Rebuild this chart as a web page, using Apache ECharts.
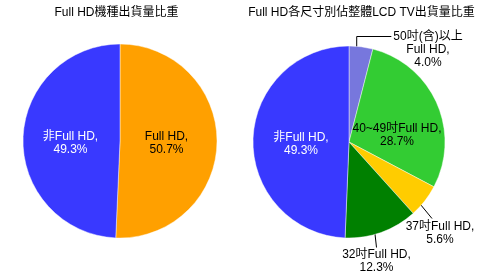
<!DOCTYPE html>
<html><head><meta charset="utf-8">
<script src="https://cdn.jsdelivr.net/npm/echarts@6/dist/echarts.min.js"></script>
<style>html,body{margin:0;padding:0;background:#fff}#c{width:481px;height:277px}</style>
</head><body><div id="c"></div>
<script>
// ---- data ----
var leftTitle = 'Full HD機種出貨量比重';
var rightTitle = 'Full HD各尺寸別佔整體LCD TV出貨量比重';
var leftNames = ['Full HD', '非Full HD'];
var leftValues = [50.7, 49.3];
var rightNames = ['50吋(含)以上\nFull HD', '40~49吋Full HD', '37吋Full HD', '32吋Full HD', '非Full HD'];
var rightValues = [4.0, 28.7, 5.6, 12.3, 49.3];

// ---- styles / layout ----
var FONT = '"Liberation Sans", Arial, "Noto Sans CJK TC", sans-serif';
var leftColors = ['#FFA000', '#3939FF'];
var rightColors = ['#7777DD', '#33CC33', '#FFCC00', '#008000', '#3939FF'];
var LC = [120, 141], LR = 97;
var RC = [349, 142], RR = 96;
// label layout relative to pie centre: [dx, dy, vAlign, textColor, outside, anchorRatio]
var leftLabelPos = [[46.5, 2.5, 'middle', '#000'], [-49.5, 2.5, 'middle', '#fff']];
var rightLabelPos = [
  [79, -112, 'top', '#000', true, 0.64],
  [48, -6.5, 'middle', '#000'],
  [91, 78.5, 'top', '#000', true, 0.74],
  [27.5, 106.5, 'top', '#000', true, 0.70],
  [-48, 2.5, 'middle', '#fff']
];

function pct(v){ return v.toFixed(1) + '%'; }

function buildData(names, values, colors, posList){
  return names.map(function(n, i){
    var p = posList[i];
    return {
      name: n, value: values[i],
      itemStyle: {color: colors[i]},
      label: {color: p[3], position: p[4] ? 'outside' : 'inside'},
      labelLine: {show: !!p[4]}
    };
  });
}

function midAngles(values){
  var tot = values.reduce(function(a,b){return a+b;},0), cum = 0;
  return values.map(function(v){ var m = (cum + v/2)/tot*Math.PI*2; cum += v; return m; });
}
var rightMid = midAngles(rightValues);

function makeLayout(center, radius, posList, mids){
  return function(params){
    var p = posList[params.dataIndex];
    var x = center[0] + p[0], y = center[1] + p[1];
    var res = {x: x, y: y, align: 'center', verticalAlign: p[2]};
    if (p[4] && mids) {
      var a = mids[params.dataIndex];
      var ax = center[0] + Math.sin(a)*radius*p[5];
      var ay = center[1] - Math.cos(a)*radius*p[5];
      var w = params.labelRect.width;
      if (params.dataIndex === 0) {
        var ly = y + 6.5;
        res.labelLinePoints = [[ax, ay], [ax, ly], [x - w/2 - 2, ly]];
      } else if (params.dataIndex === 2) {
        res.labelLinePoints = [[ax, ay], [ax + 0.5*(x - 8 - ax), ay + 0.5*(y - 2 - ay)], [x - 8, y - 2]];
      } else {
        res.labelLinePoints = [[ax, ay], [ax + 0.5*(x - ax), ay + 0.5*(y - 1 - ay)], [x, y - 1]];
      }
    }
    return res;
  };
}

function pieSeries(center, radius, data, layoutFn){
  return {
    type: 'pie', center: center, radius: radius, startAngle: 90, clockwise: true,
    avoidLabelOverlap: false, animation: false, silent: true,
    itemStyle: {borderColor: 'rgba(255,255,255,0.55)', borderWidth: 0.8},
    label: {
      fontFamily: FONT, fontSize: 12, lineHeight: 13,
      formatter: function(p){ return p.name + ',\n' + pct(p.value); }
    },
    labelLine: {lineStyle: {color: '#000', width: 1}, length: 10, length2: 10},
    labelLayout: layoutFn,
    emphasis: {disabled: true},
    data: data
  };
}

var chart = echarts.init(document.getElementById('c'), null, {renderer: 'canvas'});
chart.setOption({
  animation: false,
  backgroundColor: '#fff',
  title: [
    {text: leftTitle, left: 116.5, top: 7, textAlign: 'center', padding: 0,
     textStyle: {fontFamily: FONT, fontSize: 12, fontWeight: 'normal', color: '#000'}},
    {text: rightTitle, left: 361.5, top: 7, textAlign: 'center', padding: 0,
     textStyle: {fontFamily: FONT, fontSize: 12, fontWeight: 'normal', color: '#000'}}
  ],
  series: [
    pieSeries(LC, LR, buildData(leftNames, leftValues, leftColors, leftLabelPos), makeLayout(LC, LR, leftLabelPos, null)),
    pieSeries(RC, RR, buildData(rightNames, rightValues, rightColors, rightLabelPos), makeLayout(RC, RR, rightLabelPos, rightMid))
  ]
});
</script>
</body></html>
